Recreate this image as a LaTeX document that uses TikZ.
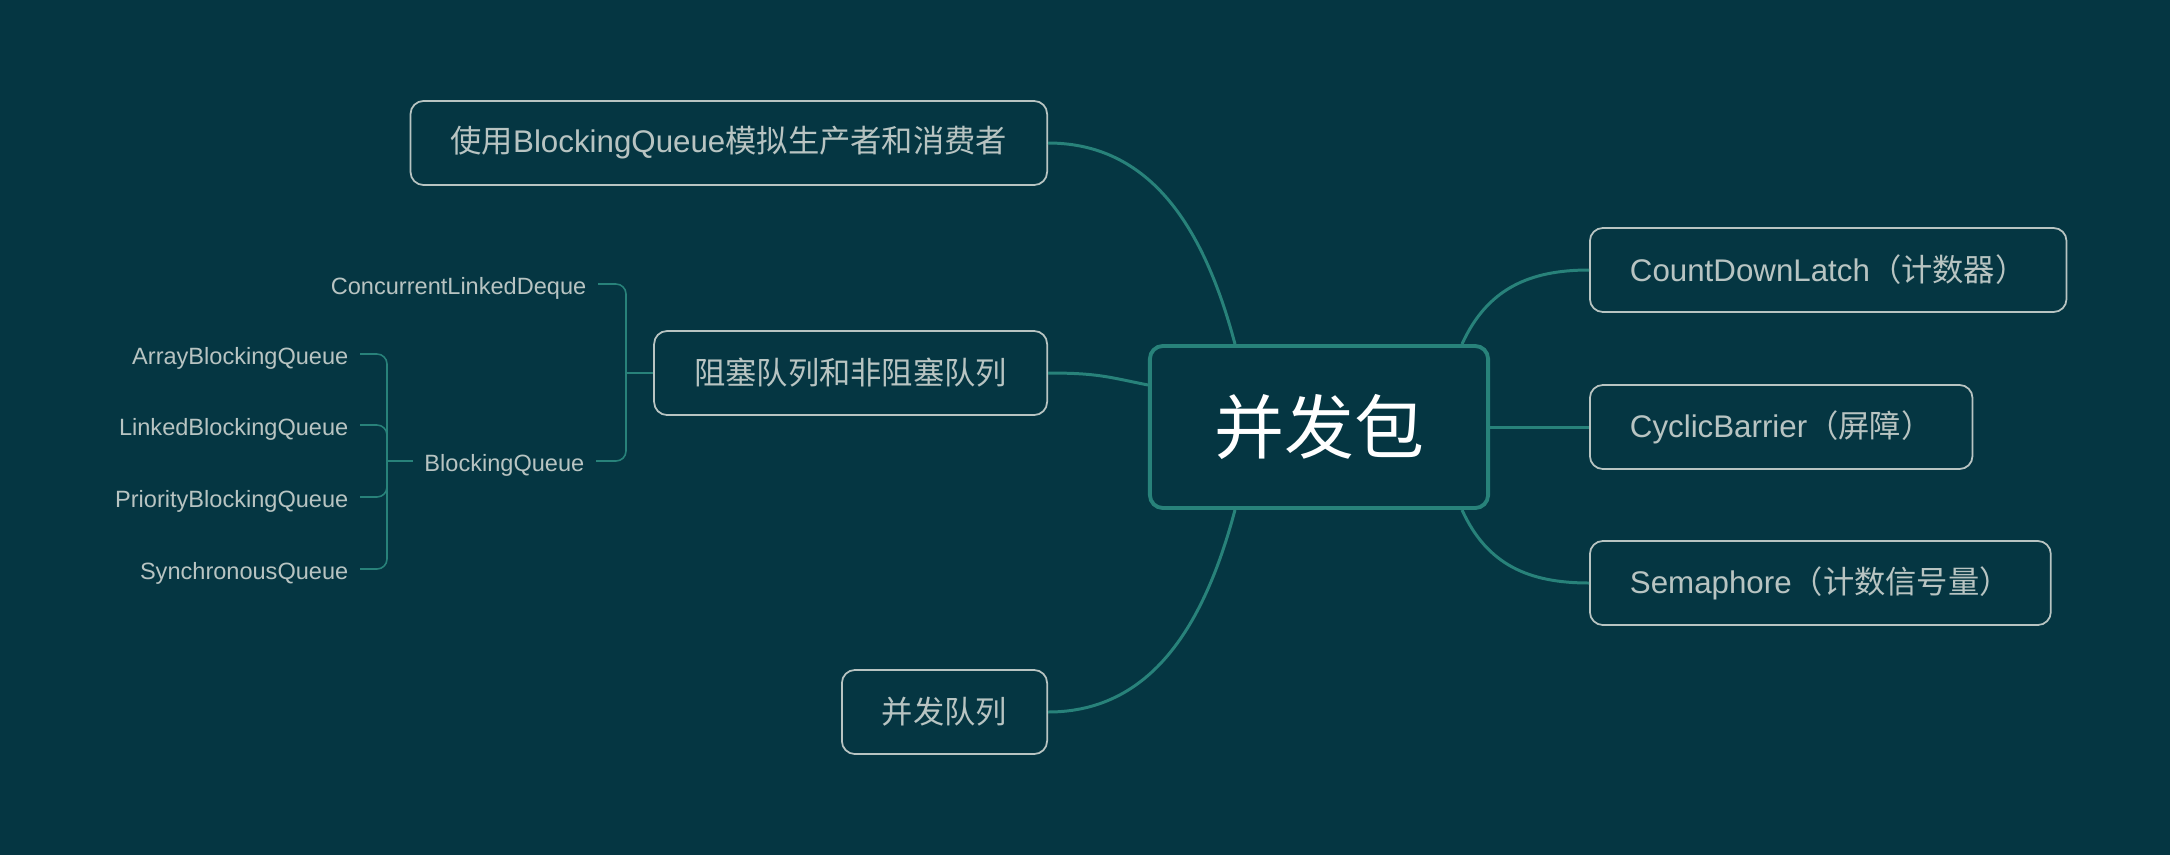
\documentclass[tikz,border=0pt]{standalone}
\usepackage{fontspec}
\setmainfont{Liberation Sans}
\newfontfamily\cjk{Noto Sans CJK SC}
\usepackage{tikz}
\usetikzlibrary{positioning,calc}
\definecolor{bgcol}{RGB}{5,54,66}
\definecolor{branch}{RGB}{40,130,122}
\definecolor{boxline}{RGB}{184,196,194}
\tikzset{topic/.style={draw=boxline,line width=0.5pt,rounded corners=0.13cm,fill=bgcol,text=boxline,font=\fontsize{8.9}{10}\selectfont,minimum height=0.84cm,inner xsep=0.4cm}}
\tikzset{leaf/.style={text=boxline,font=\fontsize{6.7}{8}\selectfont,inner xsep=0.11cm,inner ysep=0pt,text height=0.72em,text depth=0.1em}}
\tikzset{branchline/.style={branch,line width=0.85pt}}
\tikzset{bracket/.style={branch,line width=0.45pt,rounded corners=0.1cm}}

\begin{document}
\begin{tikzpicture}[x=0.01cm,y=-0.01cm]
    \useasboundingbox (0,0) rectangle (2170,854);
    \fill[bgcol] (-10,-10) rectangle (2180,864);
    \node[draw=branch,line width=1.1pt,rounded corners=0.13cm,fill=bgcol,text=white,font={\cjk\fontsize{19.9}{22}\selectfont},minimum width=3.38cm,minimum height=1.62cm] at (1319,427) (root) {并发包};
    % left side
    \node[topic,anchor=east] at (1048,143) (sim) {{\cjk 使用}BlockingQueue{\cjk 模拟生产者和消费者}};
    \node[topic,anchor=east] at (1048,373) (queues) {\cjk 阻塞队列和非阻塞队列};
    \node[topic,anchor=east] at (1048,712) (conc) {\cjk 并发队列};
    % right side
    \node[topic,anchor=west] at (1589,270) (latch) {CountDownLatch{\cjk （计数器）}};
    \node[topic,anchor=west] at (1589,427) (barrier) {CyclicBarrier{\cjk （屏障）}};
    \node[topic,anchor=west] at (1589,583) (sema) {Semaphore{\cjk （计数信号量）}};
    % queue classes
    \node[leaf,anchor=east] at (598,284) (cld) {ConcurrentLinkedDeque};
    \node[leaf,anchor=east] at (596,461) (bq) {BlockingQueue};
    \node[leaf,anchor=east] at (360,354) (abq) {ArrayBlockingQueue};
    \node[leaf,anchor=east] at (360,425) (lbq) {LinkedBlockingQueue};
    \node[leaf,anchor=east] at (360,497) (pbq) {PriorityBlockingQueue};
    \node[leaf,anchor=east] at (360,569) (sq) {SynchronousQueue};
    \coordinate (j1) at (626,373);
    \coordinate (j2) at (387,461);
    \draw[bracket] (cld.east) -| (j1) |- (bq.east);
    \draw[bracket] (j1) -- (queues.west);
    \draw[bracket] (abq.east) -| (j2) |- (sq.east);
    \draw[bracket] (lbq.east) -| (j2);
    \draw[bracket] (pbq.east) -| (j2);
    \draw[bracket] (j2) -- (bq.west);
    % branches
    \draw[branchline] (sim.east) .. controls +(109,0) and +(-28,-105) .. ($(root.north west)+(87,0)$);
    \draw[branchline] (queues.east) .. controls +(50,0) and +(-40,-8) .. ($(root.west)+(0,-42)$);
    \draw[branchline] (conc.east) .. controls +(109,0) and +(-28,105) .. ($(root.south west)+(87,0)$);
    \draw[branchline] ($(root.north east)+(-28,0)$) .. controls +(25,-55) and +(-60,0) .. (latch.west);
    \draw[branchline] (root.east) -- (barrier.west);
    \draw[branchline] ($(root.south east)+(-28,0)$) .. controls +(25,55) and +(-60,0) .. (sema.west);
\end{tikzpicture}
\end{document}
